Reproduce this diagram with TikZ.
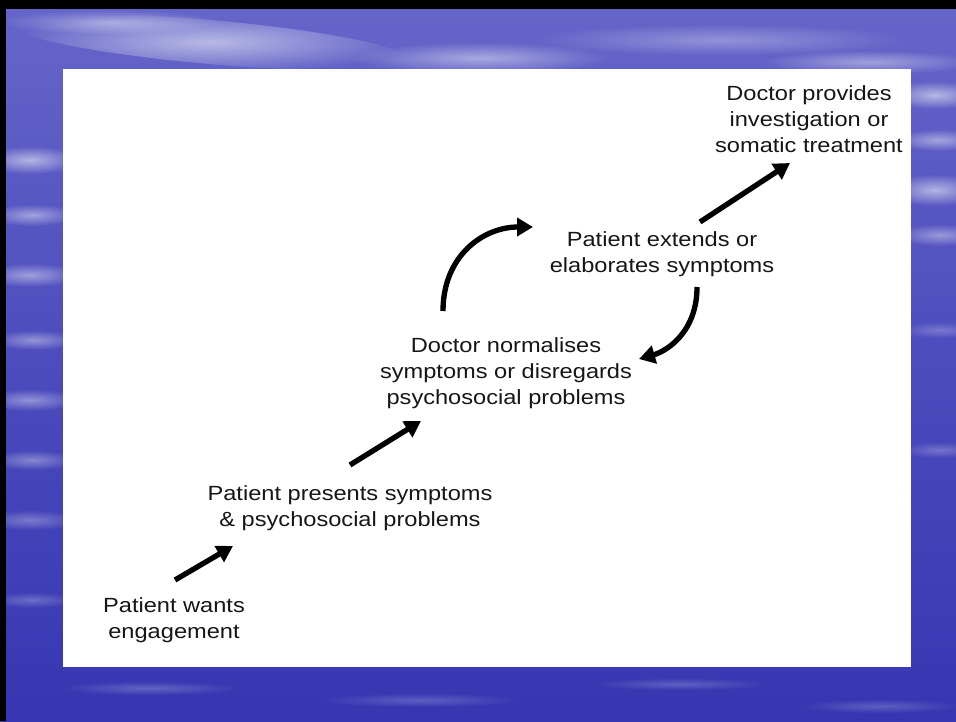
\documentclass[tikz,border=0pt]{standalone}
\usepackage{fontspec}
\setmainfont{Liberation Sans}[FakeStretch=1.15]
\usetikzlibrary{arrows.meta,fadings}
\definecolor{skytop}{HTML}{6666C9}
\definecolor{skymid}{HTML}{4C4CBE}
\definecolor{seabot}{HTML}{3636B2}
\definecolor{inktext}{HTML}{161616}
% a haze that fades out evenly from its centre
\tikzfading[name=softglow, inner color=transparent!0, outer color=transparent!100]
\begin{document}
\begin{tikzpicture}[x=0.75pt,y=-0.75pt,
  steptext/.style={align=center, font=\fontsize{15.4}{19.5}\selectfont,
    text=inktext, inner sep=0pt},
  flow/.style={line width=4pt, draw=black,
    -{Triangle[length=12pt,width=13.5pt]}},
  wisp/.style={fill=white, path fading=softglow}
]
\useasboundingbox (0,0) rectangle (956,721);

% sky and sea backdrop
\shade[top color=skytop, bottom color=seabot, middle color=skymid]
  (0,0) rectangle (956,721);

% clouds along the top
\fill[wisp, opacity=0.55, rotate around={-5:(210,42)}] (210,42) ellipse [x radius=200, y radius=22];
\fill[wisp, opacity=0.45] (480,58) ellipse [x radius=130, y radius=16];
\fill[wisp, opacity=0.40] (110,22) ellipse [x radius=110, y radius=12];
\fill[wisp, opacity=0.30] (720,40) ellipse [x radius=190, y radius=16];
\fill[wisp, opacity=0.40] (870,62) ellipse [x radius=110, y radius=12];
% clouds and reflections on the right edge
\fill[wisp, opacity=0.55] (935,95) ellipse [x radius=50, y radius=14];
\fill[wisp, opacity=0.45] (938,140) ellipse [x radius=45, y radius=11];
\fill[wisp, opacity=0.55] (935,190) ellipse [x radius=50, y radius=16];
\fill[wisp, opacity=0.40] (940,235) ellipse [x radius=45, y radius=11];
\fill[wisp, opacity=0.25] (940,330) ellipse [x radius=40, y radius=8];
\fill[wisp, opacity=0.25] (940,450) ellipse [x radius=40, y radius=8];
% reflections on the left edge
\fill[wisp, opacity=0.55] (30,160) ellipse [x radius=50, y radius=14];
\fill[wisp, opacity=0.45] (32,215) ellipse [x radius=45, y radius=11];
\fill[wisp, opacity=0.45] (30,275) ellipse [x radius=50, y radius=12];
\fill[wisp, opacity=0.40] (34,340) ellipse [x radius=45, y radius=10];
\fill[wisp, opacity=0.40] (30,400) ellipse [x radius=50, y radius=11];
\fill[wisp, opacity=0.35] (32,460) ellipse [x radius=45, y radius=10];
\fill[wisp, opacity=0.30] (30,520) ellipse [x radius=50, y radius=10];
\fill[wisp, opacity=0.25] (32,600) ellipse [x radius=45, y radius=8];
% ripples along the bottom
\fill[wisp, opacity=0.22] (150,688) ellipse [x radius=90, y radius=7];
\fill[wisp, opacity=0.20] (420,700) ellipse [x radius=100, y radius=7];
\fill[wisp, opacity=0.20] (680,684) ellipse [x radius=90, y radius=6];
\fill[wisp, opacity=0.20] (880,706) ellipse [x radius=80, y radius=7];

% dark frame edges
\fill[black] (0,0) rectangle (956,9);
\fill[black] (0,0) rectangle (6,721);

% white panel
\fill[white] (63,69) rectangle (911,667);

% steps of the cycle
\node[steptext] (provides) at (809,119) {Doctor provides\\investigation or\\somatic treatment};
\node[steptext] (extends) at (662,254) {Patient extends or\\elaborates symptoms};
\node[steptext] (normalises) at (506,373) {Doctor normalises\\symptoms or disregards\\psychosocial problems};
\node[steptext] (presents) at (350,508) {Patient presents symptoms\\\& psychosocial problems};
\node[steptext] (wants) at (174,620) {Patient wants\\engagement};

% arrow ends
\coordinate (wants-out) at (175,580);
\coordinate (presents-in) at (233,546);
\coordinate (presents-out) at (350,465);
\coordinate (normalises-in) at (421,421);
\coordinate (normalises-out) at (443,311);
\coordinate (extends-in) at (533,227);
\coordinate (extends-out) at (697,287);
\coordinate (normalises-back) at (639,359);
\coordinate (extends-up) at (700,222);
\coordinate (provides-in) at (790,163);

% connectors
\draw[flow] (wants-out) -- (presents-in);
\draw[flow] (presents-out) -- (normalises-in);
\draw[flow] (normalises-out) .. controls +(0,-55) and +(-50,0) .. (extends-in);
\draw[flow] (extends-out) .. controls +(0,45) and +(28,-8) .. (normalises-back);
\draw[flow] (extends-up) -- (provides-in);
\end{tikzpicture}
\end{document}
